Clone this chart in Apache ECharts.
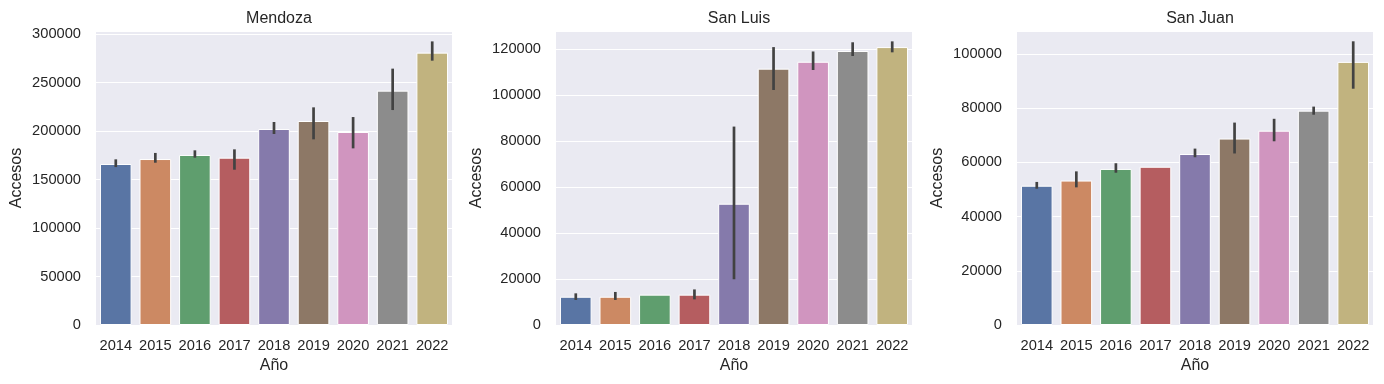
<!DOCTYPE html>
<html>
<head>
<meta charset="utf-8">
<script src="https://cdn.jsdelivr.net/npm/echarts@6/dist/echarts.min.js"></script>
<style>html,body{margin:0;padding:0;background:#fff}#c{width:1384px;height:384px}</style>
</head>
<body>
<div id="c"></div>
<script>
const years = ['2014','2015','2016','2017','2018','2019','2020','2021','2022'];
const panelTitles = ['Mendoza', 'San Luis', 'San Juan'];

const mendozaMean = [166000, 171100, 175300, 172500, 202100, 210300, 199000, 241600, 280800];
const mendozaLo   = [164200, 168700, 173900, 161500, 198300, 192800, 183500, 223000, 273900];
const mendozaHi   = [169400, 176000, 178700, 179700, 207900, 223000, 213000, 262900, 291000];

const sanLuisMean = [12300, 12300, 13200, 13200, 52800, 111600, 114600, 119300, 121000];
const sanLuisLo   = [11500, 11500, null, 11750, 20500, 102900, 111600, 117700, 119300];
const sanLuisHi   = [13200, 13800, null, 14900, 85800, 120400, 118500, 122500, 122900];

const sanJuanMean = [51400, 53300, 57600, 58400, 63100, 68800, 71700, 79100, 97100];
const sanJuanLo   = [50800, 51300, 56700, null, 62400, 63800, 68300, 78100, 87700];
const sanJuanHi   = [52300, 56200, 59200, null, 64600, 74200, 75600, 80100, 104200];

const yMax = [303100, 128000, 108500];
const yInterval = [50000, 20000, 20000];

const palette = ['#5975a4','#cc8963','#5f9e6e','#b55d60','#857aab','#8d7866','#d095bf','#8c8c8c','#c1b37f'];

const means = [mendozaMean, sanLuisMean, sanJuanMean];
const los = [mendozaLo, sanLuisLo, sanJuanLo];
const his = [mendozaHi, sanLuisHi, sanJuanHi];

const FONT = "'Liberation Sans', Arial, sans-serif";
const TXT = '#262626';
const lefts = [96, 556, 1017];
const W = 356;

const grids = [], xAxes = [], yAxes = [], series = [], titles = [];
for (let p = 0; p < 3; p++) {
  grids.push({left: lefts[p], top: 31, width: W, height: 294, show: true,
    backgroundColor: '#EAEAF2', borderWidth: 0, containLabel: false});
  titles.push({text: panelTitles[p], left: lefts[p] + W / 2, top: 6, textAlign: 'center',
    textStyle: {fontFamily: FONT, fontSize: 16, fontWeight: 'normal', color: TXT}});
  xAxes.push({type: 'category', gridIndex: p, data: years, boundaryGap: true,
    axisLine: {show: false}, axisTick: {show: false}, splitLine: {show: false},
    axisLabel: {color: TXT, fontFamily: FONT, fontSize: 14.67, margin: 13, interval: 0, hideOverlap: false},
    name: 'Año', nameLocation: 'middle', nameGap: 31,
    nameTextStyle: {color: TXT, fontFamily: FONT, fontSize: 16}});
  const iv = yInterval[p];
  yAxes.push({type: 'value', gridIndex: p, min: 0, max: yMax[p], interval: iv,
    axisLine: {show: false}, axisTick: {show: false},
    splitLine: {show: true, lineStyle: {color: '#ffffff', width: 1.2}},
    axisLabel: {color: TXT, fontFamily: FONT, fontSize: 14.67, margin: 15,
      formatter: v => (v % iv === 0 ? String(v) : '')},
    name: 'Accesos', nameLocation: 'middle', nameGap: 71, nameRotate: 90,
    nameTextStyle: {color: TXT, fontFamily: FONT, fontSize: 16}});
  series.push({type: 'bar', xAxisIndex: p, yAxisIndex: p, barCategoryGap: '20%',
    data: means[p].map((v, i) => ({value: v, itemStyle: {color: palette[i]}})),
    itemStyle: {borderColor: '#ffffff', borderWidth: 1}, silent: true, animation: false});
  const errData = [];
  years.forEach((y, i) => { if (los[p][i] != null) errData.push([i, los[p][i], his[p][i]]); });
  series.push({type: 'custom', xAxisIndex: p, yAxisIndex: p, data: errData, z: 5,
    encode: {x: 0, y: [1, 2]}, silent: true, animation: false,
    renderItem: (params, api) => {
      const a = api.coord([api.value(0), api.value(1)]);
      const b = api.coord([api.value(0), api.value(2)]);
      return {type: 'line', shape: {x1: a[0], y1: a[1], x2: b[0], y2: b[1]},
        style: {stroke: '#424242', lineWidth: 2.7, lineCap: 'square'}};
    }});
}

const chart = echarts.init(document.getElementById('c'), null, {renderer: 'canvas'});
chart.setOption({animation: false, backgroundColor: '#ffffff', title: titles,
  grid: grids, xAxis: xAxes, yAxis: yAxes, series: series});
</script>
</body>
</html>
